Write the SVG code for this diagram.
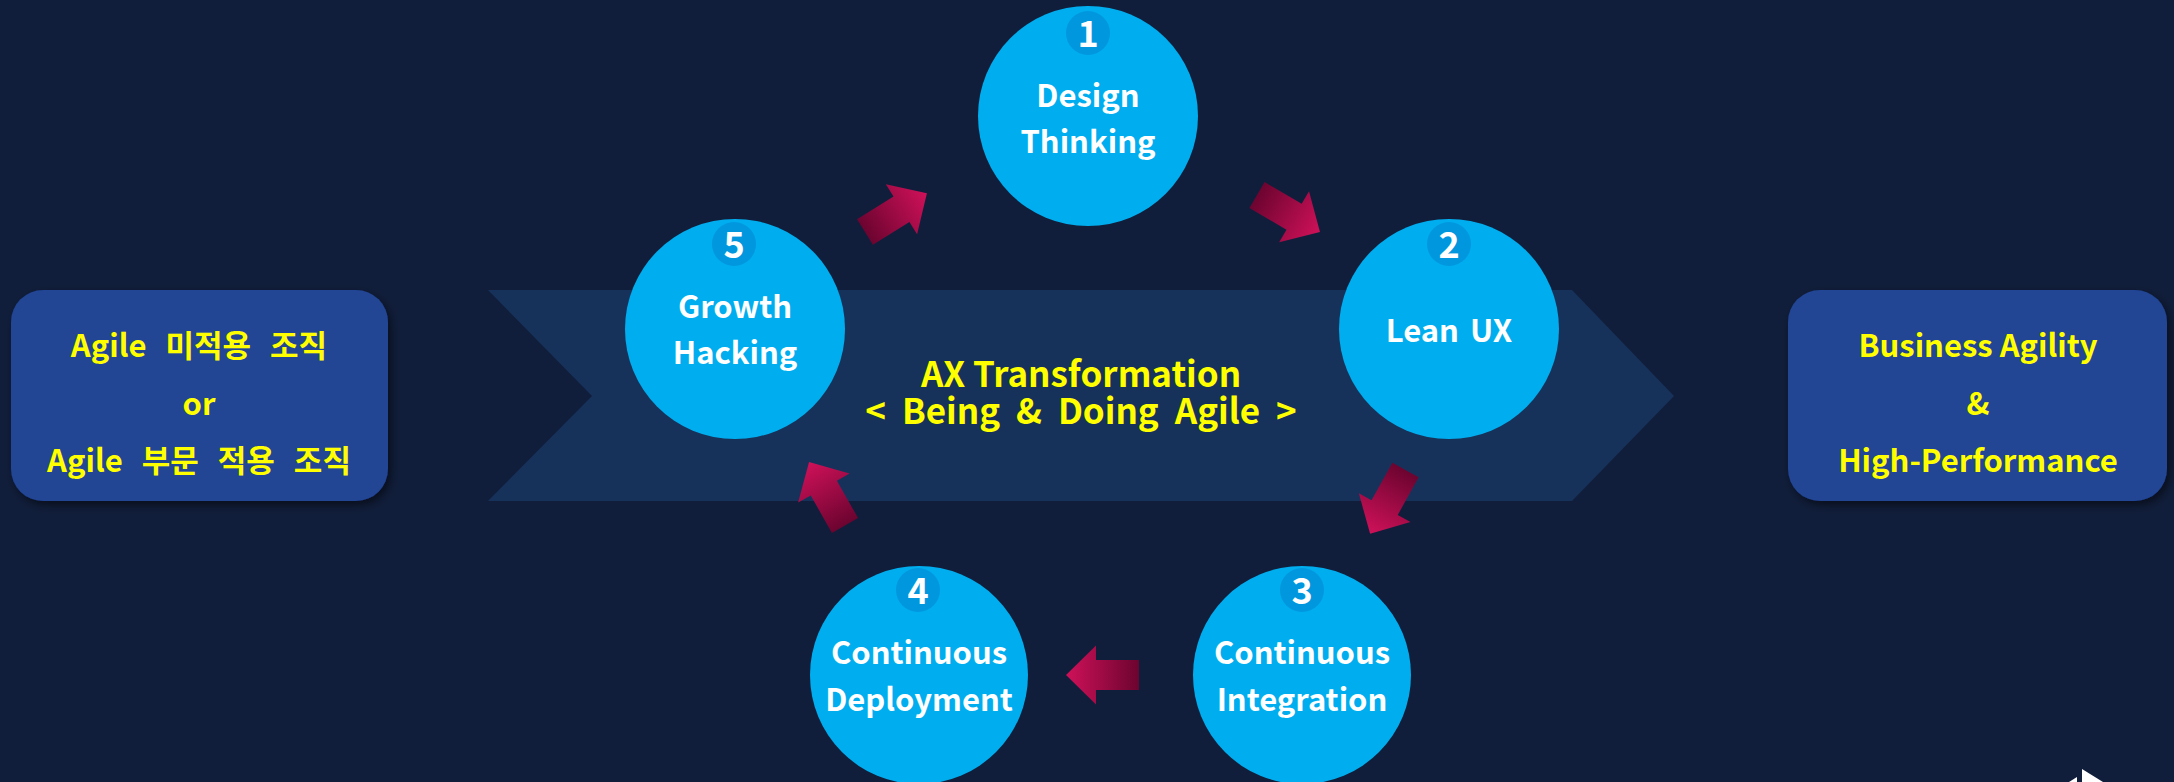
<svg xmlns="http://www.w3.org/2000/svg" width="2174" height="782" viewBox="0 0 2174 782">
<defs>
<style>
.bg{fill:#111e3b}
.chev{fill:#17325a}
.box{fill:#204494;filter:url(#sh)}
.circ{fill:#00aeef}
.badge{fill:#0097df}
.arr{fill:url(#ag)}
text{font-family:"Noto Sans CJK KR","Open Sans","DejaVu Sans",sans-serif;font-weight:bold;text-anchor:middle}
.ct{fill:#ffffff;font-size:31px}
.num{fill:#ffffff;font-size:36px}
.yt{fill:#ffff00;font-size:31px}
.ko{word-spacing:12px}
.mt{fill:#ffff00;font-size:35px}
</style>
<linearGradient id="ag" x1="0" y1="0" x2="1" y2="0">
<stop offset="0" stop-color="#6c0430"/>
<stop offset="1" stop-color="#cf1159"/>
</linearGradient>
<filter id="sh" x="-10%" y="-10%" width="125%" height="130%">
<feDropShadow dx="3" dy="4" stdDeviation="5" flood-color="#000000" flood-opacity="0.55"/>
</filter>
<path id="arrow" d="M0,-15 L43,-15 L43,-29.5 L73,0 L43,29.5 L43,15 L0,15 Z"/>
</defs>
<rect class="bg" x="0" y="0" width="2174" height="782"/>
<g id="chevron">
<polygon class="chev" points="488,290 1572,290 1674,396 1572,501 488,501 592,396"/>
<text class="mt" x="1081" y="387">AX Transformation</text>
<text class="mt" x="1081" y="424" style="word-spacing:8px">&lt; Being &amp; Doing Agile &gt;</text>
</g>
<g id="connectors">
<use href="#arrow" class="arr" transform="translate(865,232) rotate(-32)"/>
<use href="#arrow" class="arr" transform="translate(1257,195) rotate(30.4)"/>
<use href="#arrow" class="arr" transform="translate(1405.5,470) rotate(119)"/>
<use href="#arrow" class="arr" transform="translate(1139,675) rotate(180)"/>
<use href="#arrow" class="arr" transform="translate(845,525.5) rotate(-119.5)"/>
</g>
<g id="box-left">
<rect class="box" x="11" y="290" width="377" height="211" rx="32" ry="32"/>
<text class="yt ko" x="199" y="357">Agile 미적용 조직</text>
<text class="yt" x="199" y="415">or</text>
<text class="yt ko" x="199" y="472">Agile 부문 적용 조직</text>
</g>
<g id="box-right">
<rect class="box" x="1788" y="290" width="379" height="211" rx="32" ry="32"/>
<text class="yt" x="1978" y="357">Business Agility</text>
<text class="yt" x="1978" y="415">&amp;</text>
<text class="yt" x="1978" y="472">High-Performance</text>
</g>
<g id="node1">
<circle class="circ" cx="1088" cy="116" r="110"/>
<circle class="badge" cx="1088" cy="33" r="22"/>
<text class="num" x="1088" y="47">1</text>
<text class="ct" x="1088" y="107">Design</text>
<text class="ct" x="1088" y="153">Thinking</text>
</g>
<g id="node2">
<circle class="circ" cx="1449" cy="329" r="110"/>
<circle class="badge" cx="1449" cy="244" r="22"/>
<text class="num" x="1449" y="258">2</text>
<text class="ct" x="1449" y="342" style="word-spacing:4px">Lean UX</text>
</g>
<g id="node3">
<circle class="circ" cx="1302" cy="675" r="109"/>
<circle class="badge" cx="1302" cy="590" r="22"/>
<text class="num" x="1302" y="604">3</text>
<text class="ct" x="1302" y="664">Continuous</text>
<text class="ct" x="1302" y="711">Integration</text>
</g>
<g id="node4">
<circle class="circ" cx="919" cy="675" r="109"/>
<circle class="badge" cx="918" cy="590" r="22"/>
<text class="num" x="918" y="604">4</text>
<text class="ct" x="919" y="664">Continuous</text>
<text class="ct" x="919" y="711">Deployment</text>
</g>
<g id="node5">
<circle class="circ" cx="735" cy="329" r="110"/>
<circle class="badge" cx="734" cy="244" r="22"/>
<text class="num" x="734" y="258">5</text>
<text class="ct" x="735" y="318">Growth</text>
<text class="ct" x="735" y="364">Hacking</text>
</g>
<g id="corner-icon" fill="#ffffff">
<polygon points="2082,769 2103,782 2082,782"/>
<polygon points="2069,782 2077,777 2077,782"/>
</g>
</svg>
